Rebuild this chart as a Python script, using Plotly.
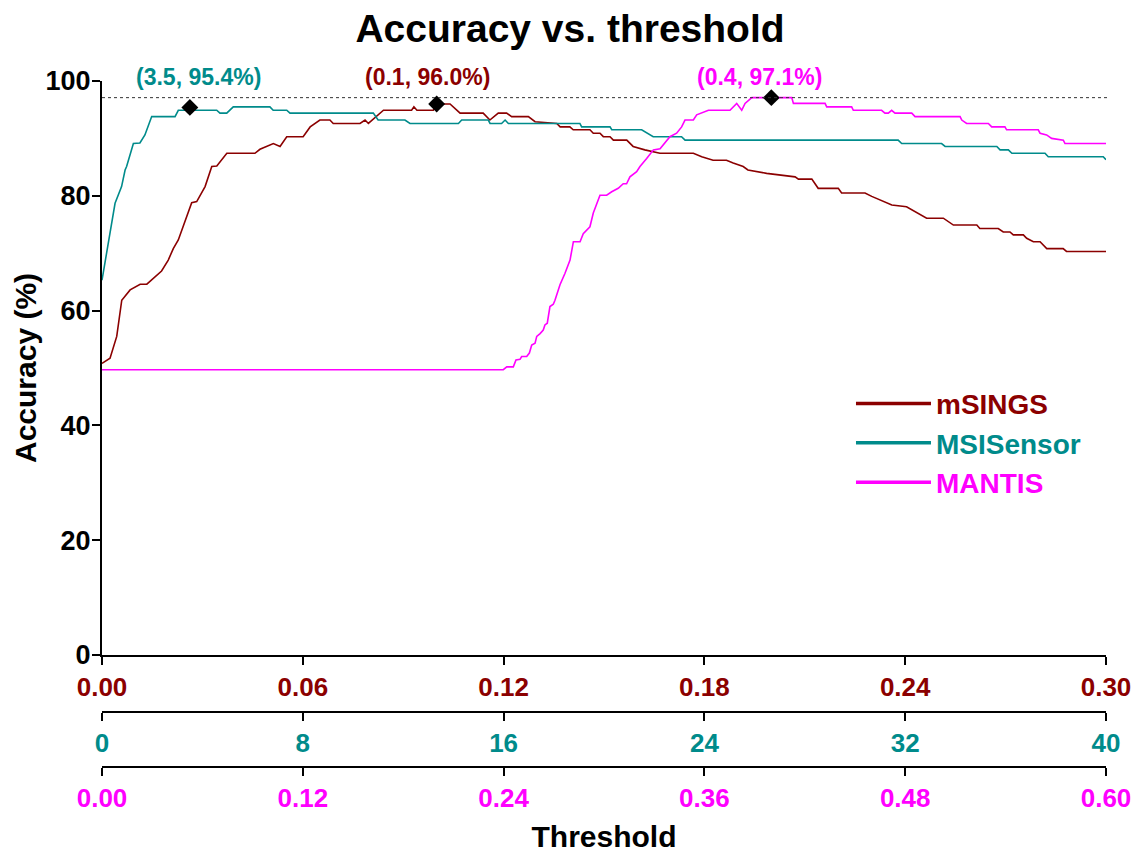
import plotly.graph_objects as go

# ---------------- data ----------------
series_names = ["mSINGS", "MSISensor", "MANTIS"]
series_colors = ["#8B0000", "#008B8B", "#FF00FF"]

msings_t = [0.0, 0.0024, 0.0044, 0.0059, 0.0084, 0.0114, 0.0134, 0.0178, 0.0198, 0.0213,
            0.0228, 0.0253, 0.0268, 0.0283, 0.0293, 0.0308, 0.0328, 0.0343, 0.0373, 0.0457,
            0.0472, 0.0492, 0.0512, 0.0532, 0.0552, 0.0601, 0.0622, 0.0651, 0.0681, 0.0691,
            0.0771, 0.0786, 0.0796, 0.0841, 0.0925, 0.0932, 0.0941, 0.0990, 0.1000, 0.1040,
            0.1070, 0.1139, 0.1159, 0.1184, 0.1209, 0.1224, 0.1274, 0.1294, 0.1359, 0.1369,
            0.1398, 0.1408, 0.1458, 0.1468, 0.1488, 0.1498, 0.1518, 0.1528, 0.1568, 0.1587,
            0.1622, 0.1667, 0.1767, 0.1792, 0.1826, 0.1866, 0.1886, 0.1916, 0.1930, 0.1986,
            0.2056, 0.2071, 0.2081, 0.2121, 0.2140, 0.2200, 0.2210, 0.2280, 0.2300, 0.2325,
            0.2360, 0.2404, 0.2444, 0.2464, 0.2514, 0.2544, 0.2614, 0.2623, 0.2678, 0.2693,
            0.2713, 0.2723, 0.2753, 0.2763, 0.2783, 0.2803, 0.2823, 0.2872, 0.2882, 0.3000]
msings_acc = [50.8, 51.7, 55.5, 61.8, 63.6, 64.6, 64.6, 66.9, 68.8, 70.8,
              72.3, 76.4, 78.8, 79.0, 80.1, 81.6, 85.1, 85.2, 87.4, 87.4,
              88.1, 88.6, 89.1, 88.6, 90.3, 90.3, 92.0, 93.2, 93.2, 92.6,
              92.6, 93.2, 92.6, 94.9, 94.9, 95.5, 94.9, 94.9, 96.0, 96.0,
              94.4, 94.4, 93.2, 94.4, 94.4, 93.8, 93.8, 92.9, 92.6, 92.0,
              92.0, 91.5, 91.5, 90.9, 90.9, 90.3, 90.3, 89.7, 89.7, 88.6,
              88.0, 87.4, 87.4, 86.8, 86.2, 86.2, 85.7, 85.1, 84.5, 83.9,
              83.3, 83.3, 82.9, 82.9, 81.3, 81.3, 80.5, 80.5, 79.9, 79.3,
              78.4, 78.1, 76.7, 76.1, 76.1, 74.9, 74.9, 74.3, 74.3, 73.7,
              73.7, 73.2, 73.2, 72.6, 72.0, 72.0, 70.8, 70.8, 70.3, 70.3]

msisensor_t = [0.0, 0.45, 0.52, 0.78, 0.92, 0.98, 1.25, 1.51, 1.71, 1.98,
               2.91, 3.04, 4.57, 4.70, 4.97, 5.23, 6.69, 6.82, 7.36, 7.49,
               10.81, 11.00, 12.07, 12.27, 14.20, 14.33, 15.39, 15.46, 15.92, 16.06,
               16.19, 19.04, 19.11, 20.24, 20.31, 21.50, 21.96, 23.09, 23.23, 31.72,
               31.86, 33.45, 33.59, 35.65, 35.78, 36.11, 36.25, 37.57, 37.70, 39.89,
               40.0]
msisensor_acc = [65.3, 77.5, 78.7, 81.6, 84.5, 85.1, 89.1, 89.2, 90.6, 93.8,
                 93.8, 94.9, 94.9, 94.4, 94.4, 95.5, 95.5, 94.9, 94.9, 94.4,
                 94.4, 93.2, 93.2, 92.6, 92.6, 93.2, 93.2, 92.6, 92.6, 93.2,
                 92.6, 92.6, 92.0, 92.0, 91.5, 91.5, 90.3, 90.3, 89.7, 89.7,
                 89.1, 89.1, 88.6, 88.6, 88.0, 88.0, 87.4, 87.4, 86.8, 86.8,
                 86.3]

mantis_t = [0.0, 0.2398, 0.2419, 0.2458, 0.2474, 0.2498, 0.2508, 0.2538, 0.2554, 0.2568,
            0.2588, 0.2598, 0.2618, 0.2637, 0.2647, 0.2661, 0.2677, 0.2697, 0.2707, 0.2737,
            0.2767, 0.2797, 0.2817, 0.2857, 0.2876, 0.2916, 0.2936, 0.2976, 0.3016, 0.3046,
            0.3085, 0.3115, 0.3135, 0.3155, 0.3195, 0.3215, 0.3255, 0.3295, 0.3335, 0.3375,
            0.3394, 0.3434, 0.3464, 0.3484, 0.3534, 0.3554, 0.3594, 0.3624, 0.3753, 0.3773,
            0.3793, 0.3823, 0.3843, 0.3883, 0.4122, 0.4132, 0.4321, 0.4331, 0.4480, 0.4490,
            0.4659, 0.4679, 0.4699, 0.4719, 0.4739, 0.4839, 0.4859, 0.5128, 0.5138, 0.5167,
            0.5297, 0.5317, 0.5396, 0.5406, 0.5595, 0.5606, 0.5645, 0.5675, 0.5745, 0.5755,
            0.6000]
mantis_acc = [49.7, 49.7, 50.2, 50.2, 51.4, 51.5, 52.0, 52.0, 52.6, 54.0,
              54.3, 55.5, 56.0, 56.6, 57.5, 57.8, 60.7, 61.1, 61.8, 64.5,
              66.5, 68.8, 72.0, 72.0, 73.4, 74.6, 77.0, 80.1, 80.1, 80.7,
              81.3, 82.1, 82.1, 83.3, 84.2, 85.1, 86.5, 88.0, 88.2, 89.7,
              90.3, 90.9, 92.0, 93.2, 93.2, 94.1, 94.6, 94.9, 94.9, 95.5,
              96.1, 94.9, 96.1, 97.1, 97.1, 96.1, 96.1, 95.5, 95.5, 94.9,
              94.9, 94.4, 94.4, 94.9, 94.4, 94.4, 93.8, 93.8, 93.2, 92.6,
              92.6, 92.0, 92.0, 91.5, 91.5, 90.9, 90.6, 90.0, 89.7, 89.1,
              89.1]

peak_t = [0.1, 3.5, 0.4]
peak_acc = [96.0, 95.4, 97.1]
label_t = [0.0974, 3.86, 0.393]   # label centres along each series' own axis

axis_ranges = [[0, 0.30], [0, 40], [0, 0.60]]
axis_dticks = [0.06, 8, 0.12]
axis_formats = [".2f", "d", ".2f"]
y_ticks = [0, 20, 40, 60, 80, 100]

# ---------------- figure ----------------
FONT = "Liberation Sans, Arial, Helvetica, sans-serif"
xs = [msings_t, msisensor_t, mantis_t]
ys = [msings_acc, msisensor_acc, mantis_acc]
axis_ids = ["x", "x2", "x3"]

fig = go.Figure()
for i in range(3):
    fig.add_trace(go.Scatter(
        x=xs[i], y=ys[i], mode="lines", name=series_names[i],
        xaxis=axis_ids[i], yaxis="y", showlegend=False,
        line=dict(color=series_colors[i], width=1.6)))
for i in range(3):
    fig.add_trace(go.Scatter(
        x=[peak_t[i]], y=[peak_acc[i]], mode="markers", xaxis=axis_ids[i], yaxis="y",
        showlegend=False, hoverinfo="skip",
        marker=dict(symbol="diamond", size=13, color="black")))
# legend entries (thicker lines, coloured labels, as in the reference key)
for i in range(3):
    fig.add_trace(go.Scatter(
        x=[None], y=[None], mode="lines",
        name=f"<span style='color:{series_colors[i]}'>{series_names[i]}</span>",
        xaxis=axis_ids[i], yaxis="y",
        line=dict(color=series_colors[i], width=3.5), showlegend=True))

for i in range(3):
    fig.add_annotation(
        x=label_t[i], xref=axis_ids[i], y=1.0058, yref="paper", showarrow=False,
        text=f"({peak_t[i]}, {peak_acc[i]:.1f}%)", yanchor="middle",
        font=dict(family=FONT, size=23, color=series_colors[i], weight="bold"))

fig.add_shape(type="line", xref="paper", yref="y", x0=0, x1=1.002,
              y0=max(peak_acc), y1=max(peak_acc),
              line=dict(color="#333333", width=1, dash="dot"))

common_x = dict(showline=True, linecolor="black", linewidth=2, ticks="outside",
                ticklen=8, tickwidth=2, tickcolor="black", showgrid=False,
                zeroline=False, domain=[0, 1], automargin=False)

fig.update_layout(
    width=1140, height=853,
    margin=dict(l=102, r=34, t=81, b=86),
    paper_bgcolor="white", plot_bgcolor="white",
    title=dict(text="Accuracy vs. threshold", x=0.5, xref="container", xanchor="center",
               y=1 - 28 / 853, yref="container", yanchor="middle",
               font=dict(family=FONT, size=39, color="black", weight="bold")),
    yaxis=dict(domain=[0.1633, 1], range=[0, 100], tickvals=y_ticks,
               showline=True, linecolor="black", linewidth=2, ticks="outside",
               ticklen=8, tickwidth=2, tickcolor="black", showgrid=False, zeroline=False,
               automargin=False, ticklabelstandoff=-4,
               tickfont=dict(family=FONT, size=27, color="black", weight="bold"),
               title=dict(text="Accuracy (%)", standoff=0,
                          font=dict(family=FONT, size=30, color="black", weight="bold"))),
    xaxis=dict(anchor="y", range=axis_ranges[0], dtick=axis_dticks[0], tick0=0,
               tickformat=axis_formats[0],
               tickfont=dict(family=FONT, size=26, color=series_colors[0], weight="bold"),
               **common_x),
    xaxis2=dict(anchor="free", overlaying="x", side="bottom", position=0.0806,
                range=axis_ranges[1], dtick=axis_dticks[1], tick0=0,
                tickformat=axis_formats[1],
                tickfont=dict(family=FONT, size=26, color=series_colors[1], weight="bold"),
                **common_x),
    xaxis3=dict(anchor="free", overlaying="x", side="bottom", position=0,
                range=axis_ranges[2], dtick=axis_dticks[2], tick0=0,
                tickformat=axis_formats[2],
                tickfont=dict(family=FONT, size=26, color=series_colors[2], weight="bold"),
                title=dict(text="Threshold", standoff=16,
                           font=dict(family=FONT, size=30, color="black", weight="bold")),
                **common_x),
    legend=dict(x=0.746, y=0.566, xanchor="left", yanchor="top",
                bgcolor="rgba(0,0,0,0)", itemwidth=75, tracegroupgap=0,
                font=dict(family=FONT, size=28, color="black", weight="bold"),
                itemclick=False, itemdoubleclick=False),
)

fig.write_html("out.html")
